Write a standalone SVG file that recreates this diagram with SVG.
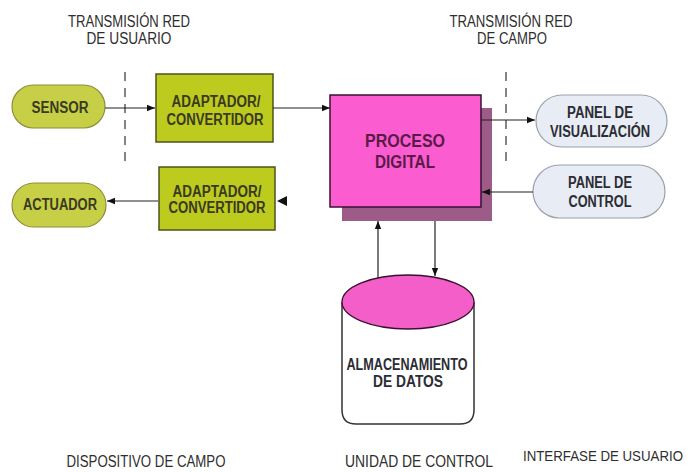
<svg xmlns="http://www.w3.org/2000/svg" width="694" height="472" viewBox="0 0 694 472">
  <style>
    text { font-family: "Liberation Sans", Arial, sans-serif; text-anchor: middle; }
    .title { font-size: 16px; fill: #2e2e2e; }
    .lbl { font-size: 16px; font-weight: bold; fill: #3a3a22; }
    .lblp { font-size: 18px; font-weight: bold; fill: #5a1a48; }
    .lblb { font-size: 16px; font-weight: bold; fill: #2c2c34; }
    .pill { fill: #c6cf45; stroke: #8c8f3a; stroke-width: 1.2; }
    .box { fill: #bccb1e; stroke: #4f5218; stroke-width: 1.5; }
    .panel { fill: #e7ecf5; stroke: #9aa1ab; stroke-width: 1.2; }
    .pink { fill: #fb5cd0; stroke: #3a1030; stroke-width: 1.5; }
    .shadow { fill: #9d5b87; }
    .link { stroke: #222; stroke-width: 1.2; fill: none; }
    .dash { stroke: #444; stroke-width: 1.3; stroke-dasharray: 9 7; }
  </style>
  <defs>
    <marker id="arr" viewBox="0 0 10 10" refX="10" refY="5" markerWidth="10" markerHeight="8" markerUnits="userSpaceOnUse" orient="auto">
      <path d="M0,1 L10,5 L0,9 Z" fill="#111"/>
    </marker>
  </defs>

  <rect width="694" height="472" fill="#fff"/>

  <!-- section headings -->
  <g id="headings">
    <text class="title" x="129" y="27" textLength="122" lengthAdjust="spacingAndGlyphs">TRANSMISIÓN RED</text>
    <text class="title" x="129" y="44" textLength="85" lengthAdjust="spacingAndGlyphs">DE USUARIO</text>
    <text class="title" x="511" y="27" textLength="123" lengthAdjust="spacingAndGlyphs">TRANSMISIÓN RED</text>
    <text class="title" x="512" y="44" textLength="70" lengthAdjust="spacingAndGlyphs">DE CAMPO</text>
    <text class="title" x="146" y="467" textLength="159" lengthAdjust="spacingAndGlyphs">DISPOSITIVO DE CAMPO</text>
    <text class="title" x="419" y="467" textLength="148" lengthAdjust="spacingAndGlyphs">UNIDAD DE CONTROL</text>
    <text class="title" x="603" y="461" style="font-size:14px" textLength="160" lengthAdjust="spacingAndGlyphs">INTERFASE DE USUARIO</text>
  </g>

  <!-- network boundaries -->
  <g id="boundaries">
    <line class="dash" x1="125" y1="72" x2="125" y2="162"/>
    <line class="dash" x1="506" y1="72" x2="506" y2="162"/>
  </g>

  <g id="sensor">
    <rect class="pill" x="12" y="85" width="93" height="43" rx="21.5"/>
    <text class="lbl" x="60" y="113" textLength="57" lengthAdjust="spacingAndGlyphs">SENSOR</text>
  </g>

  <g id="actuador">
    <rect class="pill" x="12" y="183" width="94" height="44" rx="22"/>
    <text class="lbl" x="60" y="210" textLength="74" lengthAdjust="spacingAndGlyphs">ACTUADOR</text>
  </g>

  <g id="adaptador-entrada">
    <rect class="box" x="156" y="74" width="117" height="68"/>
    <text class="lbl" x="216" y="107" textLength="89" lengthAdjust="spacingAndGlyphs">ADAPTADOR/</text>
    <text class="lbl" x="215" y="125" textLength="97" lengthAdjust="spacingAndGlyphs">CONVERTIDOR</text>
  </g>

  <g id="adaptador-salida">
    <rect class="box" x="159" y="167" width="116" height="63"/>
    <text class="lbl" x="217" y="197" textLength="89" lengthAdjust="spacingAndGlyphs">ADAPTADOR/</text>
    <text class="lbl" x="217" y="213" textLength="97" lengthAdjust="spacingAndGlyphs">CONVERTIDOR</text>
  </g>

  <g id="proceso-digital">
    <rect class="shadow" x="342" y="108" width="150" height="113"/>
    <rect class="pink" x="330" y="95" width="151" height="112"/>
    <text class="lblp" x="405" y="147" textLength="80" lengthAdjust="spacingAndGlyphs">PROCESO</text>
    <text class="lblp" x="405" y="168" textLength="60" lengthAdjust="spacingAndGlyphs">DIGITAL</text>
  </g>

  <g id="panel-visualizacion">
    <rect class="panel" x="536" y="95" width="131" height="52" rx="26"/>
    <text class="lblb" x="600" y="118" textLength="66" lengthAdjust="spacingAndGlyphs">PANEL DE</text>
    <text class="lblb" x="600" y="137" textLength="100" lengthAdjust="spacingAndGlyphs">VISUALIZACIÓN</text>
  </g>

  <g id="panel-control">
    <rect class="panel" x="533" y="165" width="132" height="53" rx="26.5"/>
    <text class="lblb" x="600" y="188" textLength="64" lengthAdjust="spacingAndGlyphs">PANEL DE</text>
    <text class="lblb" x="600" y="207" textLength="63" lengthAdjust="spacingAndGlyphs">CONTROL</text>
  </g>

  <g id="almacenamiento">
    <path d="M342,302 L342,410 Q342,424 356,424 L460,424 Q474,424 474,410 L474,302" fill="#fff" stroke="#333" stroke-width="1.5"/>
    <ellipse cx="408" cy="302" rx="66" ry="27" fill="#f45ec9" stroke="#3a1030" stroke-width="1.3"/>
    <text class="lblb" x="407" y="370" textLength="121" lengthAdjust="spacingAndGlyphs">ALMACENAMIENTO</text>
    <text class="lblb" x="408" y="387" textLength="70" lengthAdjust="spacingAndGlyphs">DE DATOS</text>
  </g>

  <!-- connectors, drawn over the node shapes -->
  <g id="connectors">
    <line class="link" x1="105" y1="108" x2="155" y2="108" marker-end="url(#arr)"/>
    <line class="link" x1="273" y1="108" x2="330" y2="108" marker-end="url(#arr)"/>
    <line class="link" x1="158" y1="201" x2="107" y2="201" stroke="#777" marker-end="url(#arr)"/>
    <path d="M287,196 L277,201 L287,206 Z" fill="#111"/>
    <line class="link" x1="481" y1="120" x2="535" y2="120" marker-end="url(#arr)"/>
    <line class="link" x1="533" y1="192" x2="482" y2="192" marker-end="url(#arr)"/>
    <line class="link" x1="378" y1="278" x2="378" y2="221" marker-end="url(#arr)"/>
    <line class="link" x1="435" y1="221" x2="435" y2="276" marker-end="url(#arr)"/>
  </g>
</svg>
